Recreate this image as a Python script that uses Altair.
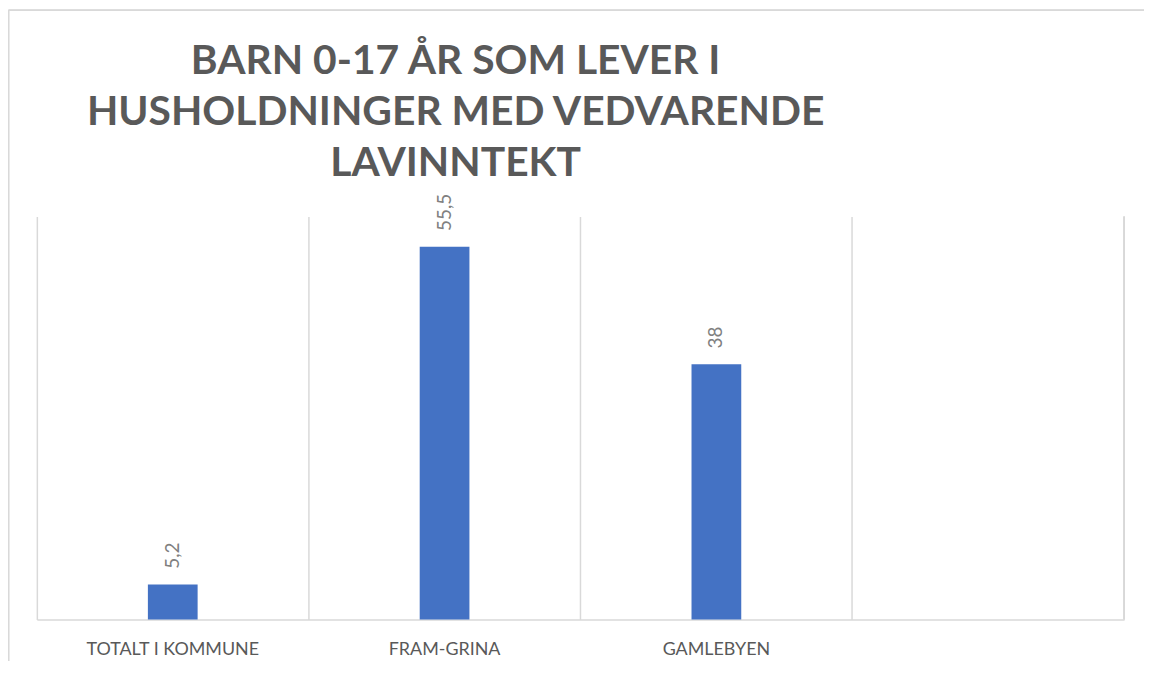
import altair as alt
import pandas as pd

categories = ["TOTALT I KOMMUNE", "FRAM-GRINA", "GAMLEBYEN"]
values = [5.2, 55.5, 38]
domain_cats = categories + [" "]
title_lines = ["BARN 0-17 ÅR SOM LEVER I", "HUSHOLDNINGER MED VEDVARENDE", "LAVINNTEKT"]

df = pd.DataFrame({"kategori": categories, "verdi": values})
df["etikett"] = [str(v).replace(".", ",") for v in values]
title_df = pd.DataFrame({"tittel": ["\n".join(title_lines)]})

W, H = 1093, 405
GRAY = "#595959"
LABEL_GRAY = "#808080"
GRID = "#d9d9d9"
FONT = "Lato"

xscale = alt.Scale(domain=domain_cats, paddingInner=0, paddingOuter=0)
yscale = alt.Scale(domain=[0, 60], nice=False)

bars = alt.Chart(df).mark_bar(size=50, color="#4472C4").encode(
    x=alt.X("kategori:N", scale=xscale, sort=domain_cats,
            axis=alt.Axis(title=None, grid=True, bandPosition=0, gridColor=GRID, gridWidth=1.5,
                          domainColor=GRID, domainWidth=1.5, ticks=False, labelAngle=0,
                          labelColor=GRAY, labelFont=FONT, labelFontSize=18, labelPadding=21)),
    y=alt.Y("verdi:Q", scale=yscale, axis=None),
)

text = alt.Chart(df).mark_text(angle=270, align="left", baseline="middle", dx=16,
                               color=LABEL_GRAY, font=FONT, fontSize=19).encode(
    x=alt.X("kategori:N", scale=xscale, sort=domain_cats),
    y=alt.Y("verdi:Q", scale=yscale),
    text="etikett:N",
)

title = alt.Chart(title_df).mark_text(
    align="center", baseline="alphabetic", lineBreak="\n", lineHeight=51,
    font=FONT, fontSize=41, fontWeight="bold", color=GRAY
).encode(x=alt.value(421), y=alt.value(-143), text="tittel:N")

right_edge = alt.Chart(df).mark_rule(color=GRID, strokeWidth=1.5).encode(
    x=alt.value(W), y=alt.value(0), y2=alt.value(H)
)

frame_left = alt.Chart(df).mark_rule(color=GRID, strokeWidth=1.5).encode(
    x=alt.value(-28.5), y=alt.value(-207.5), y2=alt.value(H + 60)
)
frame_top = alt.Chart(df).mark_rule(color=GRID, strokeWidth=1.5).encode(
    x=alt.value(-28.5), x2=alt.value(W + 30), y=alt.value(-207.5)
)

chart = alt.layer(frame_left, frame_top, right_edge, bars, text, title).properties(
    width=W, height=H,
    autosize=alt.AutoSizeParams(type="none"),
    padding={"left": 29, "top": 208, "right": 20, "bottom": 40},
).configure_view(stroke=None)

chart.save("out.html", embed_options={"renderer": "svg", "actions": False})
